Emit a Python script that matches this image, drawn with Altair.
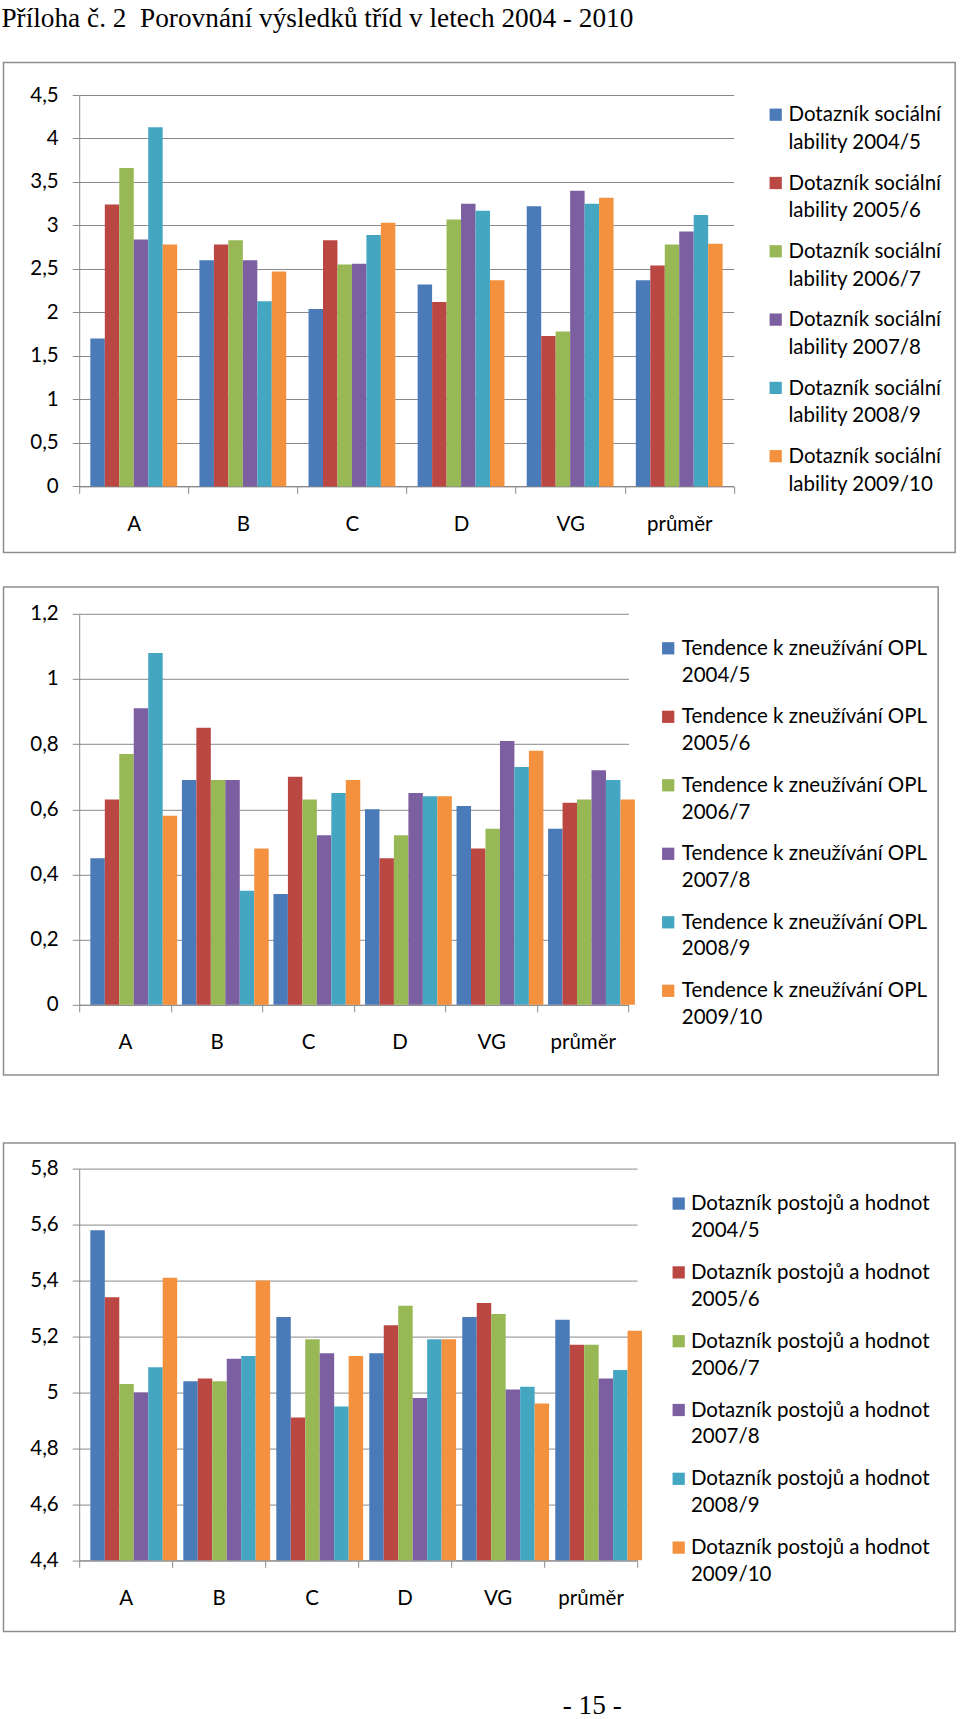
import altair as alt
import pandas as pd

# ---------------- data ----------------
categories = ["A", "B", "C", "D", "VG", "průměr"]
years = ["2004/5", "2005/6", "2006/7", "2007/8", "2008/9", "2009/10"]
colors = ["#4a7ab8", "#bb4743", "#98b855", "#7c5fa0", "#45a6c2", "#f3913f"]

# Dotazník sociální lability (values per class A, B, C, D, VG, průměr)
lab_2004 = [1.70, 2.60, 2.04, 2.32, 3.22, 2.37]
lab_2005 = [3.24, 2.78, 2.83, 2.12, 1.73, 2.54]
lab_2006 = [3.66, 2.83, 2.55, 3.07, 1.78, 2.78]
lab_2007 = [2.84, 2.60, 2.56, 3.25, 3.40, 2.93]
lab_2008 = [4.13, 2.13, 2.89, 3.17, 3.25, 3.12]
lab_2009 = [2.78, 2.47, 3.03, 2.37, 3.32, 2.79]

# Tendence k zneužívání OPL
opl_2004 = [0.45, 0.69, 0.34, 0.60, 0.61, 0.54]
opl_2005 = [0.63, 0.85, 0.70, 0.45, 0.48, 0.62]
opl_2006 = [0.77, 0.69, 0.63, 0.52, 0.54, 0.63]
opl_2007 = [0.91, 0.69, 0.52, 0.65, 0.81, 0.72]
opl_2008 = [1.08, 0.35, 0.65, 0.64, 0.73, 0.69]
opl_2009 = [0.58, 0.48, 0.69, 0.64, 0.78, 0.63]

# Dotazník postojů a hodnot
hod_2004 = [5.58, 5.04, 5.27, 5.14, 5.27, 5.26]
hod_2005 = [5.34, 5.05, 4.91, 5.24, 5.32, 5.17]
hod_2006 = [5.03, 5.04, 5.19, 5.31, 5.28, 5.17]
hod_2007 = [5.00, 5.12, 5.14, 4.98, 5.01, 5.05]
hod_2008 = [5.09, 5.13, 4.95, 5.19, 5.02, 5.08]
hod_2009 = [5.41, 5.40, 5.13, 5.19, 4.96, 5.22]

ticks_lab = [0, 0.5, 1, 1.5, 2, 2.5, 3, 3.5, 4, 4.5]
ticks_opl = [0, 0.2, 0.4, 0.6, 0.8, 1.0, 1.2]
ticks_hod = [4.4, 4.6, 4.8, 5.0, 5.2, 5.4, 5.6, 5.8]

legend_lab_1 = "Dotazník sociální"
legend_lab_2 = ["lability " + y for y in years]
legend_opl_1 = "Tendence k zneužívání OPL"
legend_opl_2 = list(years)
legend_hod_1 = "Dotazník postojů a hodnot"
legend_hod_2 = list(years)

TITLE = "Příloha č. 2\u00a0 Porovnání výsledků tříd v letech 2004 - 2010"
PAGE = "- 15 -"

# ---------------- style ----------------
FONT = "Lato"
SERIF = "Liberation Serif"
GRID = "#8a8a8a"
FRAME = "#8e8e8e"
OX = 79.0  # absolute x of every plot origin
LABEL_EXPR = "replace(format(datum.value, '.1~f'), '.', ',')"
one = pd.DataFrame({"k": [0]})


def long_df(series):
    rows = []
    for y, vals in zip(years, series):
        for c, v in zip(categories, vals):
            rows.append({"category": c, "year": y, "value": v})
    return pd.DataFrame(rows)


def panel(series, line1, line2s, ymin, ymax, yticks, width, height, oy,
          frame, legend, extra=None):
    df = long_df(series)
    fx1, fx2, fy1, fy2 = frame
    frame_layer = alt.Chart(one).mark_rect(
        fillOpacity=0, stroke=FRAME, strokeWidth=1.5
    ).encode(
        x=alt.value(fx1 - OX), x2=alt.value(fx2 - OX),
        y=alt.value(fy1 - oy), y2=alt.value(fy2 - oy),
    )
    color = alt.Color("year:N", scale=alt.Scale(domain=years, range=colors), legend=None)
    bars = alt.Chart(df).mark_bar().encode(
        x=alt.X(
            "category:N", sort=categories, title=None,
            scale=alt.Scale(paddingInner=0, paddingOuter=0),
            axis=alt.Axis(
                labelFont=FONT, labelFontSize=20.5, labelColor="black",
                labelPadding=21, labelAngle=0, tickBand="extent",
                tickSize=7, tickColor=GRID, domainColor=GRID, grid=False,
            ),
        ),
        xOffset=alt.XOffset(
            "year:N", sort=years,
            scale=alt.Scale(paddingInner=0, paddingOuter=0.77),
        ),
        y=alt.Y(
            "value:Q", title=None,
            scale=alt.Scale(domain=[ymin, ymax], nice=False, zero=False),
            axis=alt.Axis(
                values=yticks, labelExpr=LABEL_EXPR, labelFont=FONT,
                labelFontSize=20.5, labelColor="black", labelPadding=14,
                labelFlush=False, labelOverlap=False,
                tickSize=7, tickColor=GRID, domainColor=GRID,
                grid=True, gridColor=GRID, gridWidth=1,
            ),
        ),
        y2=alt.datum(ymin),
        color=color,
    )
    sq_x, tx, c0, c1, dy1, dy2 = legend
    ldf = pd.DataFrame({"year": years, "line1": [line1] * len(years), "line2": line2s})
    ly = alt.Y(
        "year:N", axis=None,
        scale=alt.Scale(type="point", domain=years, range=[c0 - oy, c1 - oy], padding=0),
    )
    squares = alt.Chart(ldf).mark_square(size=150, opacity=1).encode(
        x=alt.value(sq_x - OX), y=ly, color=color
    )
    t1 = alt.Chart(ldf).mark_text(
        align="left", baseline="alphabetic", font=FONT, fontSize=20.5,
        color="black", dy=dy1,
    ).encode(x=alt.value(tx - OX), y=ly, text="line1:N")
    t2 = alt.Chart(ldf).mark_text(
        align="left", baseline="alphabetic", font=FONT, fontSize=20.5,
        color="black", dy=dy2,
    ).encode(x=alt.value(tx - OX), y=ly, text="line2:N")
    layers = [frame_layer, bars, squares, t1, t2] + (extra or [])
    return alt.layer(*layers).resolve_scale(y="independent").properties(
        width=width, height=height
    )


# ---------------- panel 1 ----------------
OY1 = 94.3
title_layer = alt.Chart(one).mark_text(
    text=TITLE, align="left", baseline="alphabetic", font=SERIF,
    fontSize=27.3, color="black",
).encode(x=alt.value(1.2 - OX), y=alt.value(26 - OY1))

p1 = panel(
    [lab_2004, lab_2005, lab_2006, lab_2007, lab_2008, lab_2009],
    legend_lab_1, legend_lab_2, 0, 4.5, ticks_lab, 654.6, 391.4, OY1,
    (3.3, 955, 61.7, 551.7),
    (775.5, 788.3, 114.0, 455.5, 6.7, 34.3),
    extra=[title_layer],
)

# ---------------- panel 2 ----------------
OY2 = 611.7
p2 = panel(
    [opl_2004, opl_2005, opl_2006, opl_2007, opl_2008, opl_2009],
    legend_opl_1, legend_opl_2, 0, 1.2, ticks_opl, 549.3, 391.0, OY2,
    (3.3, 938, 585, 1073),
    (668.0, 681.6, 646.2, 988.7, 6.5, 33.2),
)

# ---------------- panel 3 ----------------
OY3 = 1165.0
page_layer = alt.Chart(one).mark_text(
    text=PAGE, align="center", baseline="alphabetic", font=SERIF,
    fontSize=27.3, color="black",
).encode(x=alt.value(592 - OX), y=alt.value(1710 - OY3))
spacer = alt.Chart(one).mark_rule(color="white", strokeWidth=1).encode(
    x=alt.value(0), x2=alt.value(20), y=alt.value(-58.95)
)
p3 = panel(
    [hod_2004, hod_2005, hod_2006, hod_2007, hod_2008, hod_2009],
    legend_hod_1, legend_hod_2, 4.4, 5.8, ticks_hod, 557.9, 391.7, OY3,
    (3.3, 955, 1139.3, 1628),
    (678.5, 690.7, 1200.0, 1544.0, 6.6, 33.4),
    extra=[page_layer, spacer],
)

chart = alt.vconcat(p1, p2, p3, spacing=31.8).properties(
    padding={"left": 1.2, "top": 4, "right": 0, "bottom": 0},
    background="white",
).configure_view(strokeWidth=0)

chart.save("out.html", embed_options={"renderer": "svg", "actions": False})
